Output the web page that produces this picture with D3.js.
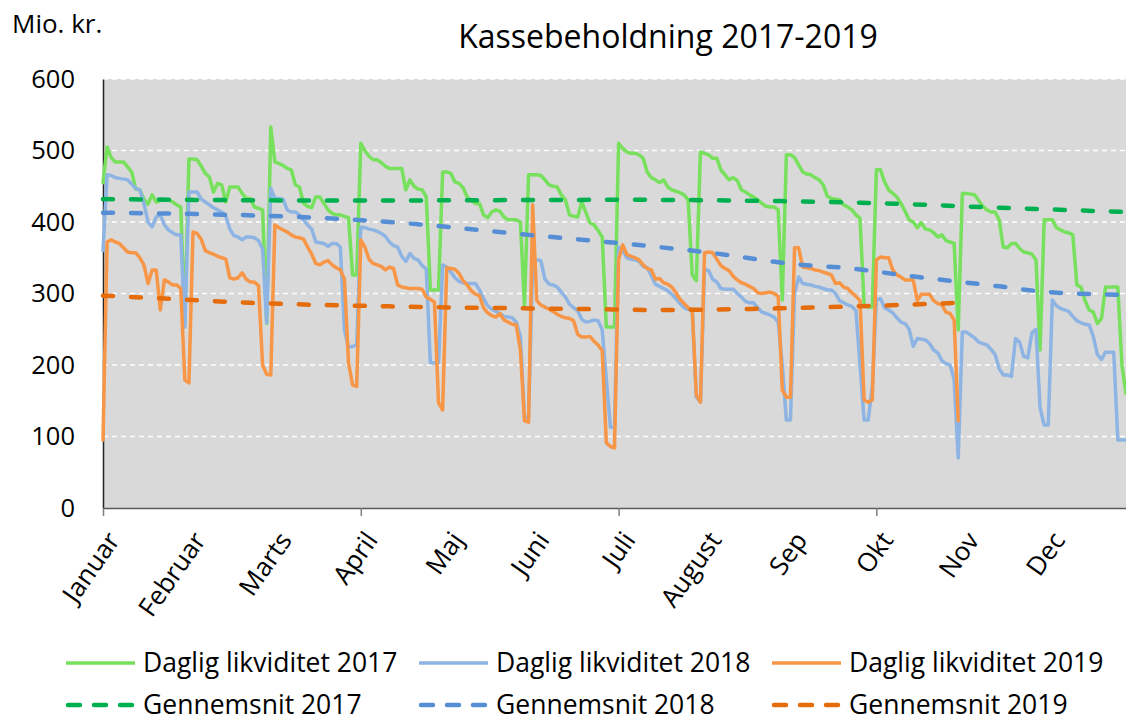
<!DOCTYPE html>
<html>
<head>
<meta charset="utf-8">
<script src="https://cdn.jsdelivr.net/npm/d3@7"></script>
<style>
  html, body { margin: 0; padding: 0; background: #fff; }
  svg { display: block; font-family: "Open Sans", sans-serif; }
</style>
</head>
<body>
<svg id="chart" width="1126" height="722"></svg>
<script>
// ---------- DATA ----------
const monthLabels = ["Januar","Februar","Marts","April","Maj","Juni","Juli","August","Sep","Okt","Nov","Dec"];
const monthStartIdx = [0,21,42,63,84,105,126,147,168,189,210,231];
const quarterTickIdx = [0,63,126,189];
const yTicks = [0,100,200,300,400,500,600];

const daglig2017 = [
455,505,490,484,484,484,477,470,446,445,
432,425,438,428,430,431,431,428,424,421,
260,488,488,487,478,468,463,442,454,452,
428,449,449,449,440,433,433,421,419,417,
258,533,484,482,479,475,473,452,449,426,
422,420,435,435,426,417,412,410,410,408,
406,326,326,510,500,492,487,487,483,478,
475,475,475,475,445,459,450,446,445,435,
305,305,305,470,470,468,456,454,448,435,
430,426,426,410,406,414,417,415,407,403,
403,403,400,284,466,466,466,465,459,452,
450,449,438,431,410,408,407,428,413,399,
396,388,379,253,253,253,510,503,498,496,
496,494,489,470,462,459,455,459,449,445,
443,441,438,431,326,318,498,496,494,489,
489,473,466,459,462,458,445,442,438,435,
431,426,422,421,421,417,291,494,494,490,
480,470,467,466,462,459,452,436,433,432,
431,424,421,417,410,405,284,281,281,473,
473,456,445,440,435,426,415,403,400,392,
399,390,389,385,379,382,374,372,370,249,
440,440,439,438,430,422,417,414,414,403,
365,364,370,370,363,358,357,355,347,221,
403,403,403,392,389,386,385,382,312,309,
290,277,274,258,265,309,309,309,309,200,
160];

const daglig2018 = [
360,466,465,462,461,460,459,453,447,445,
426,400,393,407,410,396,389,385,382,382,
253,442,442,442,432,428,424,420,417,414,
408,390,381,379,375,379,379,378,374,362,
259,447,433,433,432,417,414,414,410,403,
396,390,372,371,370,366,370,370,365,249,
225,226,228,393,392,390,389,387,384,380,
372,367,365,352,345,356,349,347,339,334,
203,203,203,340,337,330,322,317,315,314,
314,314,305,293,283,278,275,272,268,267,
266,260,240,127,127,340,347,346,320,313,
312,309,302,295,285,280,276,264,260,261,
263,262,249,180,113,113,365,360,350,348,
347,345,338,336,325,313,310,307,304,299,
293,286,280,278,277,155,148,334,332,320,
316,307,306,306,306,300,295,289,287,287,
280,274,272,270,267,260,200,123,123,300,
323,314,313,312,310,309,307,305,305,300,
290,287,284,282,276,200,123,123,170,291,
293,280,277,273,266,260,258,250,226,237,
236,235,230,221,217,206,202,200,180,70,
246,246,242,238,232,230,228,222,215,195,
186,186,184,237,232,212,210,245,250,140,
116,116,291,283,279,277,275,268,262,259,
257,256,240,215,208,218,218,218,95,95,
95];

const daglig2019 = [
95,372,375,372,370,364,358,357,357,350,
340,314,333,333,277,319,316,312,312,307,
179,175,386,384,376,360,357,355,352,350,
348,322,320,322,329,320,316,316,311,200,
187,186,396,392,389,386,382,379,378,376,
365,355,342,340,344,346,340,336,333,320,
203,172,170,375,365,348,342,340,338,333,
337,335,312,309,308,307,307,307,306,295,
292,288,147,137,336,335,334,328,318,312,
304,299,297,280,273,269,267,272,263,260,
257,256,221,122,120,424,290,284,281,278,
275,271,268,266,265,262,243,239,239,240,
233,228,220,91,86,84,347,368,355,352,
350,347,340,335,333,320,321,315,313,309,
301,292,286,280,277,158,148,357,358,357,
348,339,335,332,324,319,315,313,310,307,
301,300,301,302,300,296,165,155,155,364,
364,337,336,335,333,332,330,328,326,314,
315,309,307,301,296,290,151,148,151,347,
351,350,350,333,326,323,319,319,319,290,
299,299,299,290,286,284,274,272,263,122];

// Gennemsnit (trend) read at sample days
const snit2017Idx = [0, 60, 126, 185, 219, 250];
const snit2017 =    [432, 430, 431, 427, 420, 414];
const snit2018Idx = [0, 24, 48, 70, 104, 134, 147, 171, 183, 195, 219, 231, 250];
const snit2018 =    [413, 411, 407, 400, 382, 366, 358, 340, 335, 326, 310, 302, 298];
const snit2019Idx = [0, 11, 36, 70, 121, 134, 171, 195, 209];
const snit2019 =    [297, 294, 287, 282, 278, 277, 280, 284, 287];

const seriesNames = ["Daglig likviditet 2017","Daglig likviditet 2018","Daglig likviditet 2019",
                     "Gennemsnit 2017","Gennemsnit 2018","Gennemsnit 2019"];

// ---------- LAYOUT ----------
const svg = d3.select("#chart");
const L = 103, R = 1126, T = 79, B = 508;
const x = d3.scaleLinear().domain([0, 250]).range([L, R]);
const y = d3.scaleLinear().domain([0, 600]).range([B, T]);

const colors = {
  g17: "#77E05C", b18: "#8EB4E3", o19: "#F79646",
  s17: "#00B050", s18: "#558ED5", s19: "#E46C0A"
};

// title
svg.append("text").attr("x", 668).attr("y", 48).attr("text-anchor", "middle")
  .attr("font-size", 32).attr("fill", "#000").text("Kassebeholdning 2017-2019");
svg.append("text").attr("x", 12).attr("y", 33)
  .attr("font-size", 26).attr("fill", "#000").text("Mio. kr.");

// plot background
svg.append("rect").attr("x", L).attr("y", T).attr("width", R - L).attr("height", B - T).attr("fill", "#D9D9D9");

// gridlines
svg.append("g").selectAll("line").data(yTicks.filter(d => d > 0)).join("line")
  .attr("x1", L).attr("x2", R).attr("y1", d => y(d)).attr("y2", d => y(d))
  .attr("stroke", "#fff").attr("stroke-width", 1.3).attr("stroke-dasharray", "5,4");

// y axis
const yAxis = svg.append("g").attr("transform", `translate(${L},0)`)
  .call(d3.axisLeft(y).tickValues(yTicks).tickSize(0).tickPadding(28));
yAxis.select(".domain").attr("stroke", "#262626").attr("stroke-width", 1.5);
yAxis.selectAll("text").attr("font-size", 25.5).attr("fill", "#000").attr("font-family", "Open Sans");

// x axis (labels)
const xAxis = svg.append("g").attr("transform", `translate(0,${B})`)
  .call(d3.axisBottom(x).tickValues(monthStartIdx).tickSize(0).tickFormat((d, i) => monthLabels[i]));
xAxis.select(".domain").attr("stroke", "#595959").attr("stroke-width", 1.5);
xAxis.selectAll("text")
  .attr("font-size", 26).attr("fill", "#000").attr("font-family", "Open Sans")
  .attr("x", 0).attr("y", 0)
  .attr("text-anchor", "end").attr("dy", "0.35em")
  .attr("transform", "translate(10,27) rotate(-55)");
// x axis (quarter tick marks)
const xTicks = svg.append("g").attr("transform", `translate(0,${B})`)
  .call(d3.axisBottom(x).tickValues(quarterTickIdx).tickSize(8).tickFormat(""));
xTicks.select(".domain").remove();
xTicks.selectAll("line").attr("stroke", "#7f7f7f").attr("stroke-width", 1.5);

// lines
const plot = svg.append("g");
const dayLine = d3.line().x((d, i) => x(i)).y(d => y(d));
function drawDaily(data, color) {
  plot.append("path").datum(data).attr("d", dayLine)
    .attr("fill", "none").attr("stroke", color).attr("stroke-width", 3.5)
    .attr("stroke-linejoin", "round").attr("stroke-linecap", "round");
}
drawDaily(daglig2017, colors.g17);
drawDaily(daglig2018, colors.b18);
drawDaily(daglig2019, colors.o19);

const snitLine = d3.line().x(d => x(d[0])).y(d => y(d[1])).curve(d3.curveMonotoneX);
function drawSnit(idx, vals, color) {
  plot.append("path").datum(idx.map((d, i) => [d, vals[i]])).attr("d", snitLine)
    .attr("fill", "none").attr("stroke", color).attr("stroke-width", 4.5)
    .attr("stroke-dasharray", "10,18").attr("stroke-linecap", "round");
}
drawSnit(snit2017Idx, snit2017, colors.s17);
drawSnit(snit2018Idx, snit2018, colors.s18);
drawSnit(snit2019Idx, snit2019, colors.s19);

// legend
const legendItems = [
  { name: seriesNames[0], color: colors.g17, dash: false, x: 66, y: 663 },
  { name: seriesNames[1], color: colors.b18, dash: false, x: 419, y: 663 },
  { name: seriesNames[2], color: colors.o19, dash: false, x: 772, y: 663 },
  { name: seriesNames[3], color: colors.s17, dash: true, x: 66, y: 705 },
  { name: seriesNames[4], color: colors.s18, dash: true, x: 419, y: 705 },
  { name: seriesNames[5], color: colors.s19, dash: true, x: 772, y: 705 }
];
const lg = svg.append("g").selectAll("g").data(legendItems).join("g")
  .attr("transform", d => `translate(${d.x},${d.y})`);
lg.append("line").attr("x1", d => d.dash ? 2 : 0).attr("x2", 69)
  .attr("y1", 0).attr("y2", 0)
  .attr("stroke", d => d.color).attr("stroke-width", d => d.dash ? 4.5 : 3.5)
  .attr("stroke-dasharray", d => d.dash ? "12,14" : null)
  .attr("stroke-linecap", d => d.dash ? "round" : "butt");
lg.append("text").attr("x", 77).attr("y", 0).attr("dy", "0.35em")
  .attr("font-size", 26.5).attr("fill", "#000").text(d => d.name);
</script>
</body>
</html>
